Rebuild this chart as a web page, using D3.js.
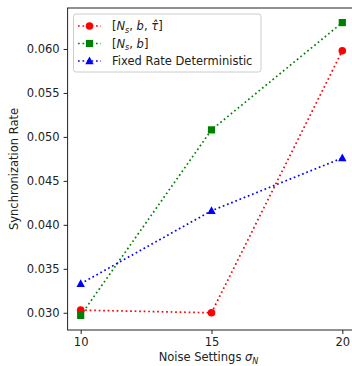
<!DOCTYPE html>
<html><head><meta charset="utf-8">
<script src="https://cdn.jsdelivr.net/npm/d3@7"></script>
<style>body{margin:0;background:#fff}svg text{font-family:"DejaVu Sans",sans-serif;}</style>
</head><body>
<svg id="c" width="352" height="366"></svg>
<script>
const xValues = [10, 15, 20];
const redSeries = [0.0303, 0.0300, 0.0598];
const greenSeries = [0.0297, 0.0508, 0.0630];
const blueSeries = [0.0333, 0.0416, 0.0476];
const xTicks = [10, 15, 20];
const yTicks = [0.030, 0.035, 0.040, 0.045, 0.050, 0.055, 0.060];

const svg = d3.select("#c");
const L = 67.6, R = 355.4, T = 8, B = 330;
const x = d3.scaleLinear().domain([9.5, 20.5]).range([L, R]);
const y = d3.scaleLinear().domain([0.02804, 0.06466]).range([B, T]);
const fs = 11.5;

const series = [
  {vals: redSeries, color: "#ff0000", shape: "circle"},
  {vals: greenSeries, color: "#008000", shape: "square"},
  {vals: blueSeries, color: "#0000ff", shape: "triangle"}
];

function marker(g, shape, cx, cy, color) {
  if (shape === "circle") g.append("circle").attr("cx", cx).attr("cy", cy).attr("r", 3.8).attr("fill", color);
  else if (shape === "square") g.append("rect").attr("x", cx - 3.6).attr("y", cy - 3.6).attr("width", 7.2).attr("height", 7.2).attr("fill", color);
  else g.append("path").attr("d", `M${cx},${cy-4.4}L${cx+4.2},${cy+3.2}L${cx-4.2},${cy+3.2}Z`).attr("fill", color);
}

const plot = svg.append("g");
const line = d3.line().x((d, i) => x(xValues[i])).y(d => y(d));
series.forEach(s => {
  plot.append("path").datum(s.vals).attr("d", line).attr("fill", "none")
    .attr("stroke", s.color).attr("stroke-width", 1.7).attr("stroke-dasharray", "1.7,2.8");
});
series.forEach(s => {
  s.vals.forEach((v, i) => marker(plot, s.shape, x(xValues[i]), y(v), s.color));
});

// axes
const xa = svg.append("g").attr("transform", `translate(0,${B})`)
  .call(d3.axisBottom(x).tickValues(xTicks).tickFormat(d3.format("d")).tickSizeOuter(0).tickSize(4).tickPadding(4));
const ya = svg.append("g").attr("transform", `translate(${L},0)`)
  .call(d3.axisLeft(y).tickValues(yTicks).tickFormat(d3.format(".3f")).tickSizeOuter(0).tickSize(4).tickPadding(4));
[xa, ya].forEach(a => {
  a.select(".domain").remove();
  a.selectAll("text").attr("font-size", fs).attr("fill", "#222").style("font-family", "DejaVu Sans");
  a.selectAll("line").attr("stroke", "#222").attr("stroke-width", 1);
});
svg.append("rect").attr("x", L).attr("y", T).attr("width", R - L).attr("height", B - T)
  .attr("fill", "none").attr("stroke", "#222").attr("stroke-width", 1);

// labels
svg.append("text").attr("x", (L + R) / 2 - 3).attr("y", 361).attr("text-anchor", "middle")
  .attr("font-size", fs).attr("fill", "#222")
  .html('Noise Settings <tspan font-style="italic">σ</tspan><tspan font-style="italic" font-size="8" dy="2.5">N</tspan>');
svg.append("text").attr("transform", `translate(18,${(T + B) / 2}) rotate(-90)`).attr("text-anchor", "middle")
  .attr("font-size", fs).attr("fill", "#222").text("Synchronization Rate");

// legend
const lg = svg.append("g");
lg.append("rect").attr("x", 73.5).attr("y", 14).attr("width", 187.5).attr("height", 58).attr("rx", 2.5)
  .attr("fill", "#fff").attr("fill-opacity", 0.8).attr("stroke", "#ccc").attr("stroke-width", 1);
const labels = [
  '[<tspan font-style="italic">N</tspan><tspan font-style="italic" font-size="8" dy="2.5">s</tspan><tspan dy="-2.5">, </tspan><tspan font-style="italic">b</tspan>, <tspan font-style="italic">τ̂</tspan>]',
  '[<tspan font-style="italic">N</tspan><tspan font-style="italic" font-size="8" dy="2.5">s</tspan><tspan dy="-2.5">, </tspan><tspan font-style="italic">b</tspan>]',
  'Fixed Rate Deterministic'
];
series.forEach((s, i) => {
  const cy = 26 + i * 17.5;
  lg.append("line").attr("x1", 78).attr("x2", 101).attr("y1", cy).attr("y2", cy)
    .attr("stroke", s.color).attr("stroke-width", 1.7).attr("stroke-dasharray", "1.7,2.8");
  marker(lg, s.shape, 89.5, cy, s.color);
  lg.append("text").attr("x", 112).attr("y", cy + 4).attr("font-size", fs).attr("fill", "#222").html(labels[i]);
});
</script>
</body></html>
